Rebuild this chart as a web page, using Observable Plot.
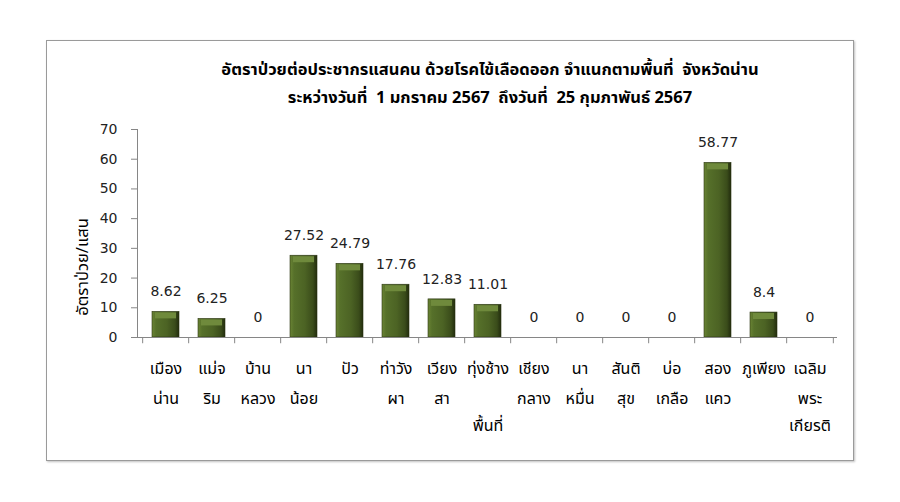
<!DOCTYPE html>
<html>
<head>
<meta charset="utf-8">
<script src="https://cdn.jsdelivr.net/npm/d3@7"></script>
<script src="https://cdn.jsdelivr.net/npm/@observablehq/plot@0.6"></script>
<style>
  html, body { margin: 0; padding: 0; background: #fff; }
  #wrap { position: relative; width: 900px; height: 502px; overflow: hidden; font-family: "Noto Sans Thai", Tahoma, "DejaVu Sans", sans-serif; }
  #frame { position: absolute; left: 46px; top: 40px; width: 806px; height: 419px; border: 1px solid #9a9a9a; box-shadow: 1px 1px 2px rgba(0,0,0,0.25); }
  #title { position: absolute; left: 40px; width: 900px; top: 56px; text-align: center; font-weight: bold; font-size: 16.5px; line-height: 28px; color: #000; white-space: pre; }
  #chart { position: absolute; left: 0; top: 0; }
  #ylab { position: absolute; left: 82px; top: 267px; transform: translate(-50%, -50%) rotate(-90deg); font-size: 16.5px; white-space: nowrap; color: #000; }
</style>
</head>
<body>
<div id="wrap">
  <div id="frame"></div>
  <div id="chart"></div>
  <div id="title"></div>
  <div id="ylab"></div>
</div>
<script>
const titleLines = [
  "อัตราป่วยต่อประชากรแสนคน ด้วยโรคไข้เลือดออก จำแนกตามพื้นที่  จังหวัดน่าน",
  "ระหว่างวันที่  1 มกราคม 2567  ถึงวันที่  25 กุมภาพันธ์ 2567"
];
const yLabel = "อัตราป่วย/แสน";
const labelLine1 = ["เมือง", "แม่จ", "บ้าน", "นา", "ปัว", "ท่าวัง", "เวียง", "ทุ่งช้าง", "เชียง", "นา", "สันติ", "บ่อ", "สอง", "ภูเพียง", "เฉลิม"];
const labelLine2 = ["น่าน", "ริม", "หลวง", "น้อย", "", "ผา", "สา", "", "กลาง", "หมื่น", "สุข", "เกลือ", "แคว", "", "พระ"];
const labelLine3 = ["", "", "", "", "", "", "", "พื้นที่", "", "", "", "", "", "", "เกียรติ"];
const values = [8.62, 6.25, 0, 27.52, 24.79, 17.76, 12.83, 11.01, 0, 0, 0, 0, 58.77, 8.4, 0];
const yTicks = [0, 10, 20, 30, 40, 50, 60, 70];

const data = labelLine1.map((l1, i) => ({
  name: l1 + labelLine2[i] + labelLine3[i] + "#" + i,
  l1, l2: labelLine2[i], l3: labelLine3[i],
  value: values[i]
}));
const names = data.map(d => d.name);

document.getElementById("title").textContent = titleLines.join("\n");
document.getElementById("ylab").textContent = yLabel;

const W = 900, H = 502, mL = 137, mR = 63, mT = 129, mB = 165;
const bw = (W - mL - mR) / names.length;
const font = '"Noto Sans Thai", Tahoma, "DejaVu Sans", sans-serif';

const plot = Plot.plot({
  width: W, height: H,
  marginLeft: mL, marginRight: mR, marginTop: mT, marginBottom: mB,
  style: { fontFamily: font, color: "#000", background: "transparent" },
  x: { domain: names, paddingInner: 0.42, paddingOuter: 0.21, axis: null },
  y: { domain: [0, 70], axis: null },
  marks: [
    Plot.axisY({ ticks: yTicks, label: null, tickSize: 6, tickPadding: 14, fontSize: 14, stroke: "#868686", strokeOpacity: 1, fill: "#222", fontFamily: '"DejaVu Sans", Tahoma, sans-serif' }),
    Plot.frame({ anchor: "left", stroke: "#868686" }),
    Plot.barY(data.filter(d => d.value > 0), { x: "name", y: "value", fill: "url(#barGrad)", stroke: "#2b3512", strokeWidth: 0.6 }),
    Plot.tickY(data.filter(d => d.value > 0), { x: "name", y: "value", stroke: "#6f8a3c", strokeWidth: 6, dy: 3.5, inset: 3 }),
    Plot.ruleY([0], { stroke: "#868686" }),
    Plot.ruleX(names, { x: d => d, y1: 0, y2: -2.1, dx: -bw / 2, stroke: "#868686" }),
    Plot.ruleX([names[names.length - 1]], { x: d => d, y1: 0, y2: -2.1, dx: bw / 2, stroke: "#868686" }),
    Plot.text(data, { x: "name", y: "value", text: d => String(d.value), dy: -20, fontSize: 14, fill: "#222", fontFamily: '"DejaVu Sans", Tahoma, sans-serif' }),
    Plot.text(data, { x: "name", y: 0, text: "l1", dy: 31, fontSize: 16, fill: "#000" }),
    Plot.text(data, { x: "name", y: 0, text: "l2", dy: 61, fontSize: 16, fill: "#000" }),
    Plot.text(data, { x: "name", y: 0, text: "l3", dy: 88, fontSize: 16, fill: "#000" })
  ]
});

const ns = "http://www.w3.org/2000/svg";
const defs = document.createElementNS(ns, "defs");
defs.innerHTML = `<linearGradient id="barGrad" x1="0" x2="1" y1="0" y2="0">
  <stop offset="0" stop-color="#6a8434"/>
  <stop offset="0.15" stop-color="#56702a"/>
  <stop offset="0.55" stop-color="#4c6324"/>
  <stop offset="0.85" stop-color="#3a4c1a"/>
  <stop offset="1" stop-color="#222c0d"/>
</linearGradient>`;
plot.insertBefore(defs, plot.firstChild);
document.getElementById("chart").appendChild(plot);
</script>
</body>
</html>
